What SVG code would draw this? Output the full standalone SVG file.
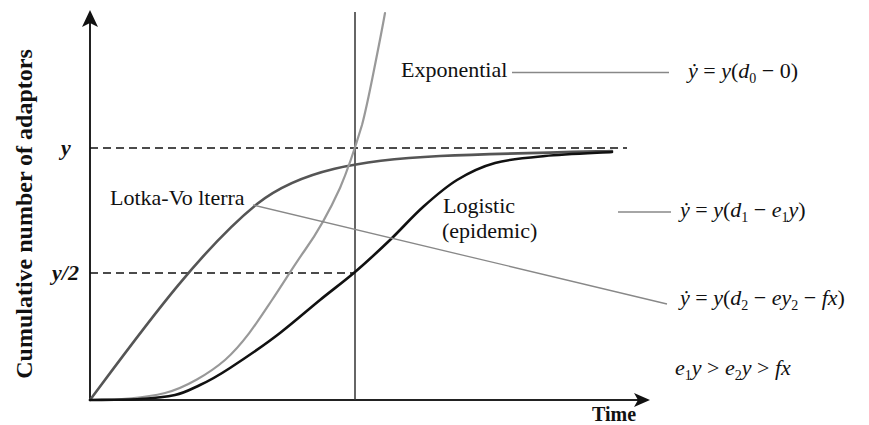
<svg xmlns="http://www.w3.org/2000/svg" width="869" height="425" viewBox="0 0 869 425" font-family="'Liberation Serif', 'Times New Roman', 'DejaVu Serif', serif">
<style>
text{font-family:"Liberation Serif","Times New Roman","DejaVu Serif",serif;fill:#111}
.lbl{font-size:22px}
.ax{font-size:24px;font-weight:bold}
.tick{font-size:22px;font-weight:bold;font-style:italic}
.eq{font-size:22px}
.i{font-style:italic}
.sub{font-size:14px}
.axis{stroke:#222;stroke-width:2;fill:none}
.dash{stroke:#111;stroke-width:1.6;stroke-dasharray:8 5;fill:none}
.ptr{stroke:#888;stroke-width:1.3;fill:none}
.curve{fill:none;stroke-linecap:round}
</style>
<rect width="869" height="425" fill="#fff"/>
<g id="axes">
<path class="axis" d="M90,400 V20"/>
<path d="M90,10 L98,27 L90,23 L82,27 Z" fill="#111"/>
<path class="axis" d="M90,400 H640"/>
<path d="M650,400 L634,393 L638,400 L634,407 Z" fill="#111"/>
<path d="M355,12 V400" stroke="#333" stroke-width="1.5" fill="none"/>
<text class="ax" transform="translate(32,214) rotate(-90)" text-anchor="middle">Cumulative number of adaptors</text>
<text class="ax" x="592" y="421" style="font-size:20px">Time</text>
<text class="tick" x="61" y="155">y</text>
<text class="tick" x="52" y="280">y/2</text>
</g>
<g id="guides">
<path class="dash" d="M90,148 H627"/>
<path class="dash" d="M90,273 H355"/>
</g>
<g id="curve-lotka-volterra">
<path class="curve" stroke="#555" stroke-width="2.6" d="M90,400 C140,333 200,250 257,204 C300,170 360,160 440,156 C500,153.5 570,152 612,151"/>
</g>
<g id="curve-exponential">
<path class="curve" stroke="#999" stroke-width="2.2" d="M90,400 C110,400 140,399 165,393 C185,388 210,373 225,360 C245,342 260,318 272,300 C282,285 295,264 305,250 C315,236 330,210 340,188 C346,174 356,145 362,125 C366,110 369,95 373,75 C377,55 382,30 385,13"/>
</g>
<g id="curve-logistic">
<path class="curve" stroke="#111" stroke-width="2.6" d="M90,400 C98.3,399.8 125.8,399.8 140,399 C154.2,398.2 165,397.3 175,395 C185,392.7 190.8,389.2 200,385 C209.2,380.8 216.7,376.7 230,368 C243.3,359.3 265,344.7 280,333 C295,321.3 307.5,310.2 320,300 C332.5,289.8 343.3,282 355,272 C366.7,262 378.7,250.8 390,240 C401.3,229.2 411.8,217 423,207 C434.2,197 445,187.3 457,180 C469,172.7 480.3,167 495,163 C509.7,159 525.5,157.8 545,156 C564.5,154.2 600.8,152.7 612,152"/>
</g>
<g id="connectors">
<path class="ptr" d="M512,72.5 H669"/>
<path class="ptr" d="M618,212 H671"/>
<path class="ptr" d="M253,205 L667,304"/>
</g>
<g id="label-exponential">
<text class="lbl" x="401" y="77">Exponential</text>
</g>
<g id="label-lotka-volterra">
<text class="lbl" x="110" y="205">Lotka-Vo lterra</text>
</g>
<g id="label-logistic">
<text class="lbl" x="443" y="213">Logistic</text>
<text class="lbl" x="442" y="238">(epidemic)</text>
</g>
<g id="eq-exponential">
<text class="eq" x="688" y="78"><tspan class="i">ẏ</tspan> = <tspan class="i">y</tspan>(<tspan class="i">d</tspan><tspan class="sub" dy="5">0</tspan><tspan dy="-5"> − 0)</tspan></text>
</g>
<g id="eq-logistic">
<text class="eq" x="680" y="217"><tspan class="i">ẏ</tspan> = <tspan class="i">y</tspan>(<tspan class="i">d</tspan><tspan class="sub" dy="5">1</tspan><tspan dy="-5"> − </tspan><tspan class="i">e</tspan><tspan class="sub" dy="5">1</tspan><tspan class="i" dy="-5">y</tspan>)</text>
</g>
<g id="eq-lotka-volterra">
<text class="eq" x="680" y="305"><tspan class="i">ẏ</tspan> = <tspan class="i">y</tspan>(<tspan class="i">d</tspan><tspan class="sub" dy="5">2</tspan><tspan dy="-5"> − </tspan><tspan class="i">ey</tspan><tspan class="sub" dy="5">2</tspan><tspan dy="-5"> − </tspan><tspan class="i">fx</tspan>)</text>
</g>
<g id="eq-inequality">
<text class="eq" x="675" y="375"><tspan class="i">e</tspan><tspan class="sub" dy="5">1</tspan><tspan class="i" dy="-5">y</tspan> &gt; <tspan class="i">e</tspan><tspan class="sub" dy="5">2</tspan><tspan class="i" dy="-5">y</tspan> &gt; <tspan class="i">fx</tspan></text>
</g>
</svg>
